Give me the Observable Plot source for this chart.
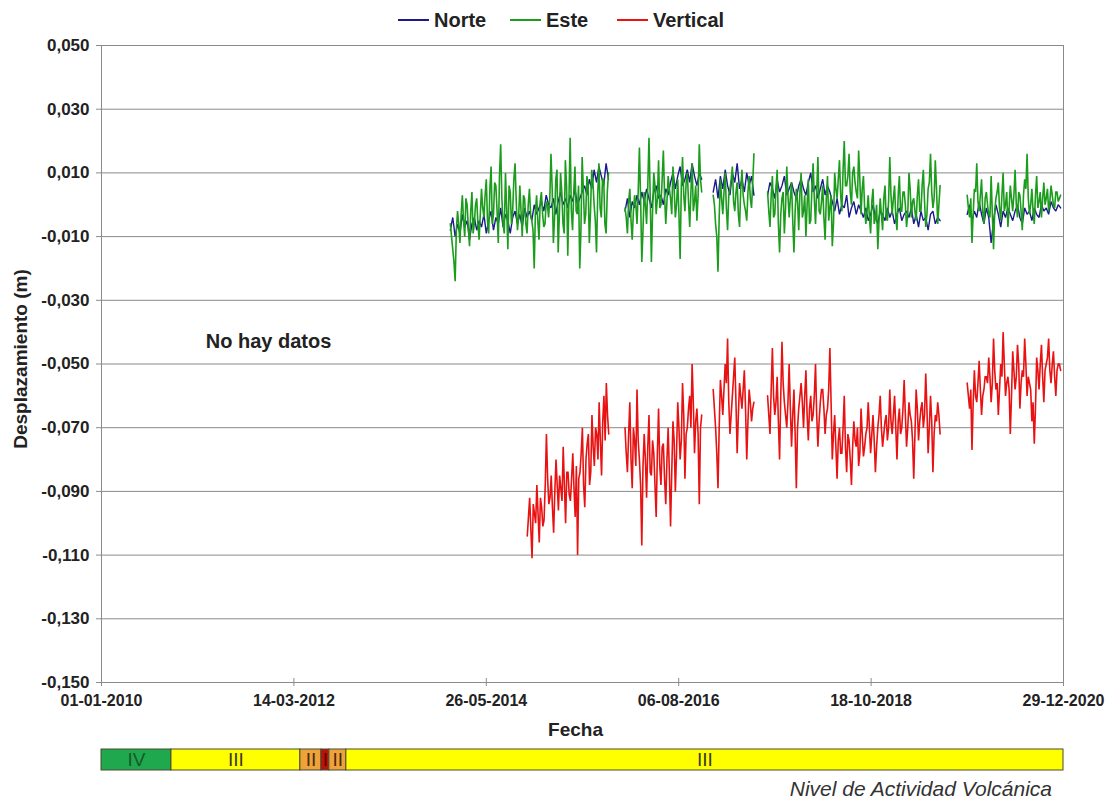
<!DOCTYPE html>
<html><head><meta charset="utf-8">
<script src="https://cdn.jsdelivr.net/npm/d3@7"></script>
<script src="https://cdn.jsdelivr.net/npm/@observablehq/plot@0.6"></script>
<style>
body{margin:0;background:#fff;font-family:"Liberation Sans",Arial,sans-serif;}
#wrap{position:relative;width:1112px;}
.leg{position:absolute;top:8px;height:24px;font-weight:bold;font-size:20px;color:#222;display:flex;align-items:center;}
.sw{display:inline-block;width:31px;height:2px;margin-right:5px;}
#cap{width:1052px;height:22px;line-height:22px;text-align:right;font-style:italic;font-size:21px;color:#333;}
</style></head><body>
<div id="wrap"></div>
<div id="bar"></div>
<div id="cap">Nivel de Actividad Volcánica</div>
<script>
// ---------- data (mm) ----------
// main samples every stepDays inside each segment; "M" arrays are the readings halfway between them
const seriesNames = ["Norte", "Este", "Vertical"];
const seriesColors = ["#1a1a8c", "#1c9c1c", "#e81212"];
const stepDays = 10;
const neStarts = ["2013-12-27", "2015-12-26", "2016-12-28", "2017-08-12", "2019-11-23"];
const vStarts  = ["2014-11-13", "2015-12-26", "2016-12-28", "2017-08-12", "2019-11-23"];

const norteS1 = [-8,-4,-10,-6,-9,-3,-7,-5,-11,-6,-4,-8,-5,-7,-3,-9,-5,-2,-8,-4,-6,-1,-7,-3,-5,-9,-4,-2,-6,-3,-7,-1,-4,-2,-5,0,-3,-1,1,-2,3,0,-1,2,-3,1,4,0,2,-1,3,1,5,0,2,4,6,3,8,5,11,7,12,9,6,13,8];
const norteS2 = [-2,2,-4,1,-1,3,0,4,1,5,2,-1,4,6,2,3,0,5,3,7,10,5,9,12,6,8,11,7,13,9,6,10,8];
const norteS3 = [4,8,2,9,5,11,6,3,10,7,13,5,8,4,10,6,9,3];
const norteS4 = [3,7,5,2,8,4,6,9,3,5,7,4,2,6,8,5,3,7,10,4,6,2,5,8,3,6,4,1,-2,2,-3,0,-1,3,-4,-1,1,-3,0,-2,-4,-1,-5,-3,0,-4,-6,-2,-3,-5,-1,-4,-2,-6,-3,-1,-5,-3,-2,-4,-1,-6,-3,-7,-2,-5,-4,-8,-3,-2,-6,-4,-5];
const norteS5 = [-3,0,-5,-2,-4,1,-3,-6,-1,-4,-12,-5,0,-3,-7,-2,-4,-1,-3,-5,-2,0,-4,-6,-1,-3,-2,-5,-1,-3,-4,0,-2,-1,-3,1,-1,-2,0,-1];

const esteS1 = [-6,-14,-24,-2,-12,3,-10,0,-13,4,-6,2,-11,5,-4,8,-9,12,-3,6,-12,19,-6,10,-14,4,-2,13,-8,6,-10,2,-9,5,-5,-20,3,-11,4,-7,1,-4,16,-12,8,-15,10,-6,14,-16,21,-8,12,-3,-20,15,-6,9,-12,11,0,-15,13,-4,8,-9,10];
const esteS2 = [-1,-9,5,-11,3,-6,18,-18,4,-6,21,-18,10,-3,14,0,17,-6,9,2,12,-4,8,-17,15,-2,10,-7,13,1,-5,19,4];
const esteS3 = [3,-6,-21,8,-3,10,-8,5,12,-2,7,-7,11,0,-5,9,-1,16];
const esteS4 = [4,-7,9,-3,11,-15,2,-9,12,-4,7,-15,5,-8,10,-2,-10,8,-5,13,-6,15,-3,6,-11,9,-1,-13,10,2,14,-2,20,6,16,0,12,4,17,-3,9,-6,3,-9,5,-4,-14,2,-8,6,-5,15,-3,6,-8,9,-2,4,-7,10,-4,2,-5,8,-2,11,-7,5,16,-1,14,-6,6];
const esteS5 = [3,-4,-12,5,13,-2,8,-6,4,-3,9,-14,2,7,-5,10,0,-7,6,-2,11,-4,3,-8,8,16,-3,5,-6,9,1,-4,7,2,-2,6,0,4,1,3];

const esteM1 = [-10,-18,-8,-6,-3,-5,2,-7,-2,-9,0,-6,-3,-1,3,-5,5,-6,7,-2,9,2,-9,-1,6,-6,8,1,-4,-2,3,-6,0,-3,-8,-2,-5,1,-3,-6,0,2,5,-4,11,-3,4,-9,6,2,-2,4,-2,6,-8,5,-3,6,-2,7,-5,3,-1,8,-6,4,0];
const esteM2 = [-4,1,-5,-2,0,4,2,-8,0,6,3,-2,6,2,-1,8,3,1,5,-3,5,0,-3,6,3,7,1,4,-2,6,3,8,0];
const esteM3 = [0,-10,-4,2,4,-1,3,8,1,4,-3,5,3,-2,4,2,7,5];
const esteM4 = [-2,3,-4,5,-6,-3,4,-1,3,2,-5,-2,1,4,-4,3,0,-6,5,2,4,-2,1,-4,2,-5,3,-6,5,8,3,11,6,9,4,10,7,2,8,5,-1,-2,-4,1,-6,0,-5,-3,2,-4,1,3,2,-4,3,-2,4,0,-3,5,1,-2,3,-2,6,1,-3,7,4,2,5,0,3];
const esteM5 = [-1,2,-3,4,1,3,-2,2,0,-4,-3,-2,4,-1,3,-2,4,-1,2,3,0,4,-2,3,5,2,0,-2,3,-1,4,2,0,5,1,3,-1,4,2,3];

const vertS1 = [-104,-92,-111,-97,-88,-106,-95,-99,-72,-94,-85,-103,-80,-96,-89,-76,-100,-84,-93,-78,-98,-110,-84,-70,-95,-75,-88,-66,-82,-72,-62,-85,-60,-56,-72];
const vertS2 = [-70,-84,-62,-89,-74,-58,-80,-107,-72,-92,-66,-85,-78,-98,-64,-88,-75,-94,-70,-101,-68,-90,-62,-80,-56,-86,-70,-60,-50,-78,-64,-94,-66];
const vertS3 = [-58,-70,-89,-55,-66,-50,-42,-72,-60,-48,-78,-56,-64,-52,-80,-58,-68,-62];
const vertS4 = [-60,-72,-45,-66,-54,-80,-43,-62,-70,-50,-76,-58,-89,-64,-56,-70,-52,-74,-60,-66,-50,-76,-62,-58,-72,-64,-45,-80,-66,-86,-70,-78,-60,-84,-74,-88,-68,-76,-82,-64,-79,-72,-62,-78,-66,-84,-70,-60,-76,-68,-74,-58,-72,-60,-80,-64,-70,-55,-76,-62,-68,-86,-58,-74,-64,-70,-53,-78,-60,-84,-66,-62,-72];
const vertS5 = [-56,-64,-77,-52,-62,-49,-66,-58,-54,-48,-62,-42,-58,-66,-50,-40,-60,-54,-72,-46,-58,-44,-64,-52,-42,-60,-56,-68,-75,-48,-58,-44,-62,-50,-42,-56,-46,-60,-50,-52];

const vertM1 = [-98,-102,-94,-100,-97,-92,-101,-88,-86,-92,-95,-90,-88,-85,-93,-88,-84,-91,-86,-89,-82,-86,-78,-88,-80,-72,-84,-76,-70,-80,-74,-68,-74,-66,-70];
const vertM2 = [-78,-72,-80,-70,-82,-74,-88,-82,-80,-76,-84,-74,-88,-78,-82,-76,-86,-80,-84,-84,-74,-78,-70,-74,-66,-72,-64,-70,-62,-68,-72,-70,-74];
const vertM3 = [-64,-78,-70,-60,-58,-56,-62,-66,-54,-62,-66,-60,-58,-64,-68,-62,-64,-66];
const vertM4 = [-66,-58,-60,-62,-68,-60,-56,-66,-62,-64,-66,-72,-70,-60,-62,-60,-66,-64,-68,-60,-66,-68,-58,-64,-66,-58,-62,-72,-76,-74,-78,-70,-76,-72,-80,-76,-74,-70,-78,-72,-76,-70,-70,-72,-74,-76,-66,-70,-72,-66,-70,-68,-66,-70,-68,-72,-64,-66,-70,-66,-74,-72,-64,-68,-62,-66,-64,-70,-68,-72,-68,-66,-68];
const vertM5 = [-60,-58,-62,-60,-56,-58,-60,-54,-56,-54,-56,-52,-56,-58,-54,-50,-56,-58,-60,-52,-54,-50,-56,-54,-50,-54,-58,-62,-64,-52,-50,-54,-52,-48,-52,-50,-54,-52,-50,-54];

// axes
const xDomain = ["2010-01-01", "2020-12-29"];
const xTicks = ["2010-01-01", "2012-03-14", "2014-05-26", "2016-08-06", "2018-10-18", "2020-12-29"];
const yTicks = [0.05, 0.03, 0.01, -0.01, -0.03, -0.05, -0.07, -0.09, -0.11, -0.13, -0.15];

// annotation
const noteText = ["No hay datos"];
const noteDate = ["2011-11-29"];
const noteValue = [-0.0429];

// volcanic activity level bar
const levelStart = ["2010-01-01", "2010-10-20", "2012-04-10", "2012-07-07", "2012-08-09", "2012-10-19"];
const levelEnd   = ["2010-10-20", "2012-04-10", "2012-07-07", "2012-08-09", "2012-10-19", "2020-12-29"];
const levelName  = ["IV", "III", "II", "I", "II", "III"];
const levelColor = {IV: "#20a84e", III: "#ffff00", II: "#eea23a", I: "#c01008"};
const levelText  = {IV: "#155a28", III: "#3a3a20", II: "#4a2a10", I: "#5a0000"};

// ---------- build table ----------
const rows = [];
function addSeries(name, starts, segs, mids) {
  segs.forEach((vals, k) => {
    const t0 = new Date(starts[k]);
    vals.forEach((v, i) => {
      rows.push({series: name, seg: name + k, date: d3.utcDay.offset(t0, i * stepDays), value: v / 1000});
      if (mids && i < vals.length - 1)
        rows.push({series: name, seg: name + k, date: d3.utcDay.offset(t0, i * stepDays + stepDays / 2), value: mids[k][i] / 1000});
    });
  });
}
addSeries("Norte", neStarts, [norteS1, norteS2, norteS3, norteS4, norteS5]);
addSeries("Este", neStarts, [esteS1, esteS2, esteS3, esteS4, esteS5], [esteM1, esteM2, esteM3, esteM4, esteM5]);
addSeries("Vertical", vStarts, [vertS1, vertS2, vertS3, vertS4, vertS5], [vertM1, vertM2, vertM3, vertM4, vertM5]);

const dom = xDomain.map(d => new Date(d));
const xt = xTicks.map(d => new Date(d));
const fmtX = d3.utcFormat("%d-%m-%Y");
const fmtY = v => d3.format(".3f")(v).replace(".", ",").replace("\u2212", "-");
const font = "'Liberation Sans', Arial, sans-serif";

const widths = [1.4, 1.6, 1.6];
const lineMarks = seriesNames.map((s, i) =>
  Plot.line(rows.filter(r => r.series === s), {x: "date", y: "value", z: "seg", stroke: seriesColors[i], strokeWidth: widths[i], strokeLinejoin: "miter", strokeMiterlimit: 2})
);

const main = Plot.plot({
  width: 1112, height: 742,
  marginLeft: 101, marginRight: 49, marginTop: 45, marginBottom: 60,
  style: {fontFamily: font, fontSize: "16px", color: "#222", background: "#fff", overflow: "visible"},
  x: {type: "utc", domain: dom, label: null},
  y: {domain: [-0.15, 0.05], label: null},
  marks: [
    Plot.gridY(yTicks, {stroke: "#8a8a8a", strokeOpacity: 1}),
    ...lineMarks,
    Plot.frame({stroke: "#8a8a8a"}),
    Plot.axisY(yTicks, {tickSize: 5, tickPadding: 7, tickFormat: fmtY, fontSize: 17, fontWeight: "bold", stroke: "#8a8a8a", fill: "#222", label: null}),
    Plot.axisX(xt, {tickSize: 4, tickPadding: 8, tickFormat: fmtX, fontSize: 16, fontWeight: "bold", stroke: "#8a8a8a", fill: "#222", label: null}),
    Plot.axisX(xt, {tickSize: 4, dy: -4, tickFormat: () => "", stroke: "#8a8a8a", label: null}),
    Plot.text(["Fecha"], {frameAnchor: "bottom", dy: 53, dx: -7, fontSize: 19, fontWeight: "bold", fill: "#222"}),
    Plot.text(["Desplazamiento (m)"], {frameAnchor: "left", textAnchor: "middle", rotate: -90, dx: -81, dy: -5, fontSize: 19, fontWeight: "bold", fill: "#222"}),
    Plot.text(noteText.map((t, i) => ({t, d: new Date(noteDate[i]), v: noteValue[i]})), {x: "d", y: "v", text: "t", fontSize: 20, fontWeight: "bold", fill: "#222"})
  ]
});

const wrap = document.getElementById("wrap");
wrap.appendChild(main);
const legLeft = [398, 510, 617];
seriesNames.forEach((s, i) => {
  const el = document.createElement("div");
  el.className = "leg";
  el.style.left = legLeft[i] + "px";
  el.innerHTML = `<span class="sw" style="background:${seriesColors[i]}"></span>${s}`;
  wrap.appendChild(el);
});

const levels = levelName.map((n, i) => ({
  name: n, start: new Date(levelStart[i]), end: new Date(levelEnd[i]),
  color: levelColor[n], tc: levelText[n]
}));
levels.forEach(d => d.mid = new Date((+d.start + +d.end) / 2));

const bar = Plot.plot({
  width: 1112, height: 36,
  marginLeft: 101, marginRight: 49, marginTop: 7, marginBottom: 8,
  style: {fontFamily: font, background: "#fff", overflow: "visible"},
  x: {type: "utc", domain: dom, axis: null},
  marks: [
    Plot.rect(levels, {x1: "start", x2: "end", fill: "color", stroke: "#4a4a30", strokeWidth: 1}),
    Plot.text(levels, {x: "mid", text: "name", fill: "tc", fontSize: 19})
  ]
});
document.getElementById("bar").appendChild(bar);
</script>
</body></html>
